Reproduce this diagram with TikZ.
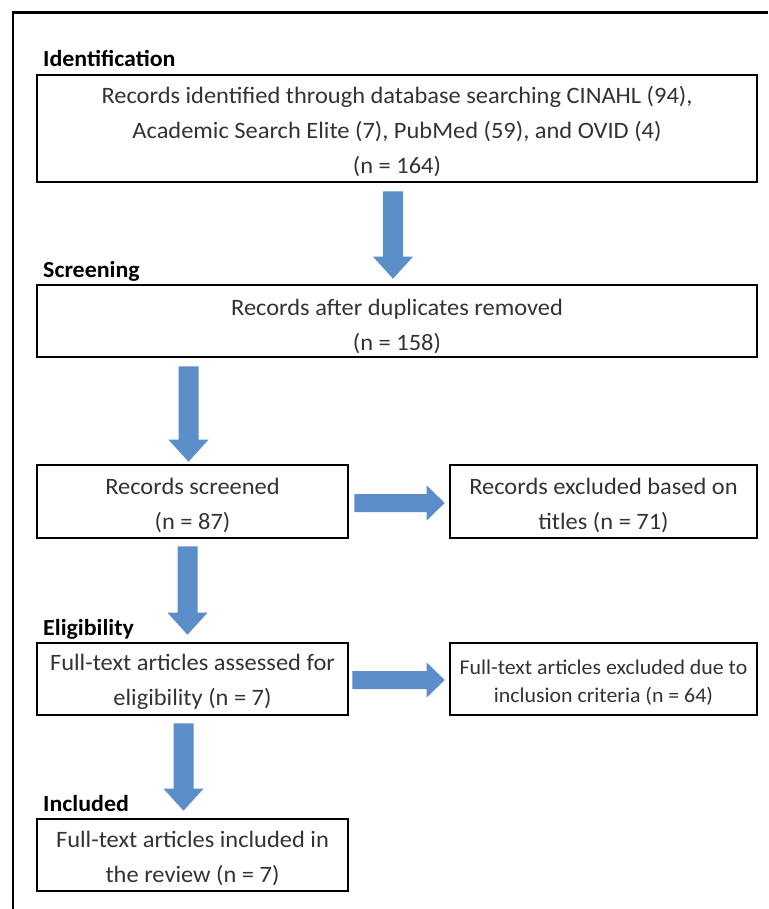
\documentclass[tikz,border=0pt]{standalone}
\usepackage{fontspec}
\setmainfont{Carlito}[FakeStretch=1.04]
\usetikzlibrary{calc}
\definecolor{arrowblue}{HTML}{5B8DC9}
\definecolor{txt}{HTML}{333333}
\tikzset{
  box/.style={draw=black, line width=2.6pt, inner sep=0pt},
  boxtext/.style={align=center, text=txt, font=\fontsize{23.5}{35}\selectfont, inner sep=0pt},
  smalltext/.style={boxtext, font=\fontsize{21}{28}\selectfont},
  stagelabel/.style={anchor=west, font=\fontsize{23}{27}\selectfont\bfseries, inner sep=0pt},
  frame/.style={draw=black, line width=2.8pt},
}
% vertical block arrow from #1 (top) to #2 (tip)
\newcommand{\vblk}[2]{%
  \path (#1) coordinate (s) (#2) coordinate (e);
  \fill[arrowblue] let \p1=(s), \p2=(e) in
    (\x1-10pt,\y1) -- (\x1+10pt,\y1) -- (\x1+10pt,\y2+22pt) -- (\x1+20pt,\y2+22pt)
    -- (\x1,\y2) -- (\x1-20pt,\y2+22pt) -- (\x1-10pt,\y2+22pt) -- cycle;}
% horizontal block arrow from #1 (left) to #2 (tip)
\newcommand{\hblk}[2]{%
  \path (#1) coordinate (s) (#2) coordinate (e);
  \fill[arrowblue] let \p1=(s), \p2=(e) in
    (\x1,\y1+9pt) -- (\x1,\y1-9pt) -- (\x2-18pt,\y1-9pt) -- (\x2-18pt,\y1-17.5pt)
    -- (\x2,\y1) -- (\x2-18pt,\y1+17.5pt) -- (\x2-18pt,\y1+9pt) -- cycle;}
\begin{document}
\begin{tikzpicture}[x=1pt, y=-1pt]
\useasboundingbox (0,0) rectangle (768,909);
\fill[white] (0,0) rectangle (768,909);
\draw[frame] (768,12.5) -- (13,12.5) -- (13,909);

\node[stagelabel] (l1) at (43,59) {Identification};
\node[stagelabel] (l2) at (43,271) {Screening};
\node[stagelabel] (l3) at (43,629) {Eligibility};
\node[stagelabel] (l4) at (43,804) {Included};

\node[box, minimum width=720pt, minimum height=107pt] (b1) at (397,128.5) {};
\node[box, minimum width=720pt, minimum height=72pt] (b2) at (397,321) {};
\node[box, minimum width=311pt, minimum height=73pt] (b3) at (192.5,501.5) {};
\node[box, minimum width=307pt, minimum height=73pt] (b4) at (603.5,501.5) {};
\node[box, minimum width=311pt, minimum height=72pt] (b5) at (192.5,679) {};
\node[box, minimum width=307pt, minimum height=72pt] (b6) at (603.5,679) {};
\node[box, minimum width=311pt, minimum height=72pt] (b7) at (192.5,855) {};

\node[boxtext] (t1) at ($(b1.center)+(0,3)$)
  {Records identified through database searching CINAHL (94),\\
   Academic Search Elite (7), PubMed (59), and OVID (4)\\ (n = 164)};
\node[boxtext] (t2) at ($(b2.center)+(0,5)$) {Records after duplicates removed\\ (n = 158)};
\node[boxtext] (t3) at ($(b3.center)+(0,4)$) {Records screened\\ (n = 87)};
\node[boxtext] (t4) at ($(b4.center)+(0,4)$) {Records excluded based on\\ titles (n = 71)};
\node[boxtext] (t5) at ($(b5.center)+(0,3)$) {Full-text articles assessed for\\ eligibility (n = 7)};
\node[smalltext] (t6) at ($(b6.center)+(0,4)$) {Full-text articles excluded due to\\ inclusion criteria (n = 64)};
\node[boxtext] (t7) at ($(b7.center)+(0,3)$) {Full-text articles included in\\ the review (n = 7)};

\vblk{$(b1.south)+(-4,8)$}{$(b2.north)+(-4,-5)$}
\vblk{$(b3.north |- b2.south)+(-4,8)$}{$(b3.north)+(-4,-2)$}
\vblk{$(b3.south)+(-5,7)$}{$(b5.north)+(-5,-7)$}
\vblk{$(b5.south)+(-9,7)$}{$(b7.north)+(-9,-7)$}
\hblk{$(b3.east)+(5,1.5)$}{$(b4.west)+(-4,1.5)$}
\hblk{$(b5.east)+(3,1)$}{$(b6.west)+(-4,1)$}
\end{tikzpicture}
\end{document}
